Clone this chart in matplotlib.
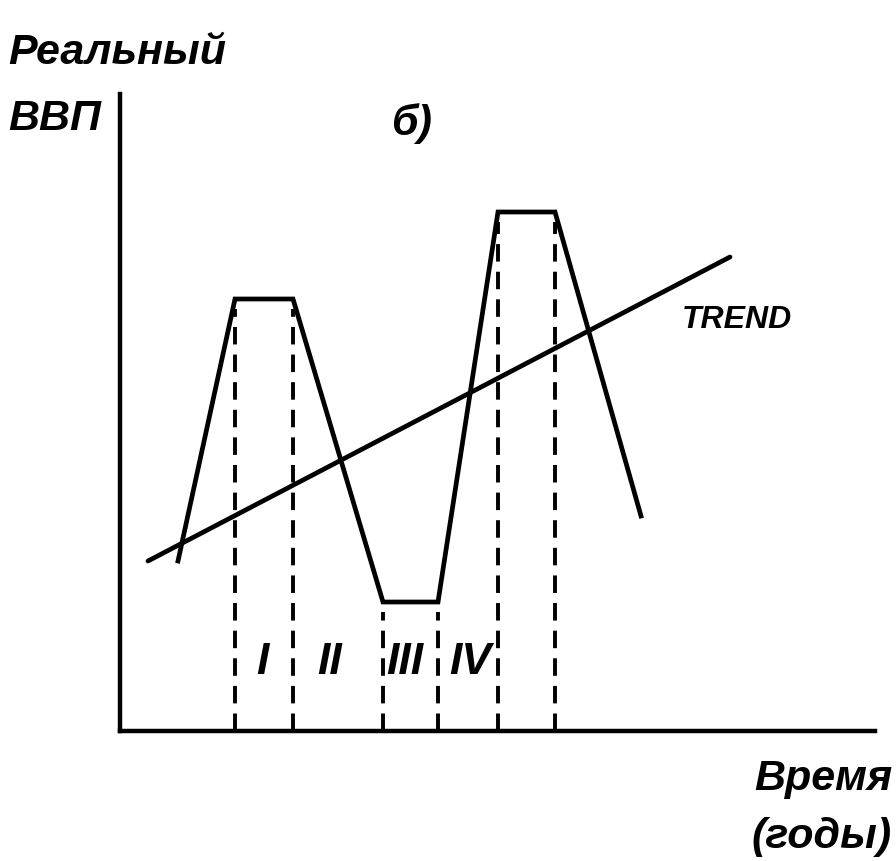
import matplotlib
matplotlib.use("Agg")
import matplotlib.pyplot as plt

cycle_t = [58, 115, 173, 263, 318, 378, 435, 521]
cycle_gdp = [170, 432, 432, 129, 129, 519, 519, 215]
trend_t = [28, 610]
trend_gdp = [170, 474]
# phase boundaries (dashed) and the level where each one stops
bound_t = [115, 173, 263, 318, 378, 435]
bound_top = [432, 432, 129, 129, 519, 519]
phase_names = ["I", "II", "III", "IV"]
phase_t = [142, 210, 285, 350]

W, H = 896, 862
FONT = ["Liberation Sans Narrow", "Liberation Sans", "DejaVu Sans"]


def fx(px):
    return px / W


def fy(py):
    return 1 - py / H


fig = plt.figure(figsize=(W / 100, H / 100), dpi=100)
ax = fig.add_axes([fx(120), fy(732), fx(875) - fx(120), fy(95) - fy(732)])
ax.set_xlim(0, 755)
ax.set_ylim(0, 637)
for s in ("top", "right"):
    ax.spines[s].set_visible(False)
for s in ("left", "bottom"):
    ax.spines[s].set_linewidth(3.2)
ax.set_xticks([]); ax.set_yticks([])

ax.plot(cycle_t, cycle_gdp, color="black", lw=3.4, solid_joinstyle="miter", clip_on=False)
ax.plot(trend_t, trend_gdp, color="black", lw=3.4, solid_capstyle="round", clip_on=False)
for t, top in zip(bound_t, bound_top):
    ax.plot([t, t], [0, top - 10], color="black", lw=2.8, ls=(0, (4.5, 2.6)))

for name, t in zip(phase_names, phase_t):
    ax.text(t, 70, name, ha="center", va="center", fontsize=32, fontweight="bold",
            fontstyle="italic", family=FONT)
ax.text(562, 412, "TREND", ha="left", va="center", fontsize=23, fontweight="bold",
        fontstyle="italic", family=FONT)

txt = dict(fontweight="bold", fontstyle="italic", family=FONT, fontsize=31)
fig.text(fx(8), fy(64), "Реальный", ha="left", va="baseline", **txt)
fig.text(fx(8), fy(130), "ВВП", ha="left", va="baseline", **txt)
fig.text(fx(412), fy(135), "б)", ha="center", va="baseline", **txt)
fig.text(fx(892), fy(790), "Время", ha="right", va="baseline", **txt)
fig.text(fx(892), fy(848), "(годы)", ha="right", va="baseline", **txt)

fig.savefig("out.png", dpi=100, facecolor="white")
